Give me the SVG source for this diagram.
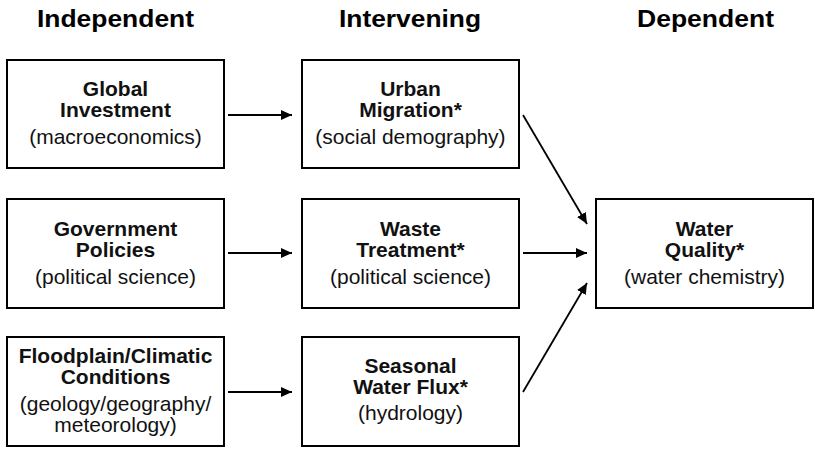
<svg xmlns="http://www.w3.org/2000/svg" width="815" height="449" viewBox="0 0 815 449">
<style>
.hdr{font-family:"Liberation Sans",Arial,sans-serif;font-weight:bold;font-size:24px;fill:#000;text-anchor:middle}
.b{font-family:"Liberation Sans",Arial,sans-serif;font-weight:bold;font-size:21px;fill:#111;text-anchor:middle}
.r{font-family:"Liberation Sans",Arial,sans-serif;font-size:21px;fill:#111;text-anchor:middle}
.box{fill:#fff;stroke:#000;stroke-width:2}
.edge{stroke:#000;stroke-width:1.8;fill:none}
</style>
<defs>
<marker id="ah" markerUnits="userSpaceOnUse" markerWidth="12" markerHeight="10" refX="11" refY="5" orient="auto">
<path d="M0,0 L11,5 L0,10 Z" fill="#000"/>
</marker>
</defs>
<rect width="815" height="449" fill="#fff"/>
<g id="headers">
<text class="hdr" x="115.5" y="27" textLength="157" lengthAdjust="spacingAndGlyphs">Independent</text>
<text class="hdr" x="410" y="27" textLength="142" lengthAdjust="spacingAndGlyphs">Intervening</text>
<text class="hdr" x="705.5" y="27" textLength="137" lengthAdjust="spacingAndGlyphs">Dependent</text>
</g>
<g id="global-investment">
<rect class="box" x="7" y="60" width="217" height="108"/>
<text class="b" x="115.5" y="96">Global</text>
<text class="b" x="115.5" y="117">Investment</text>
<text class="r" x="115.5" y="144">(macroeconomics)</text>
</g>
<g id="government-policies">
<rect class="box" x="7" y="199" width="217" height="109"/>
<text class="b" x="115.5" y="236">Government</text>
<text class="b" x="115.5" y="257">Policies</text>
<text class="r" x="115.5" y="284">(political science)</text>
</g>
<g id="floodplain">
<rect class="box" x="7" y="337" width="217" height="109"/>
<text class="b" x="115.5" y="363">Floodplain/Climatic</text>
<text class="b" x="115.5" y="384">Conditions</text>
<text class="r" x="115.5" y="411">(geology/geography/</text>
<text class="r" x="115.5" y="432">meteorology)</text>
</g>
<g id="urban-migration">
<rect class="box" x="302" y="60" width="217" height="108"/>
<text class="b" x="410.5" y="96">Urban</text>
<text class="b" x="410.5" y="117">Migration*</text>
<text class="r" x="410.5" y="144">(social demography)</text>
</g>
<g id="waste-treatment">
<rect class="box" x="302" y="199" width="217" height="109"/>
<text class="b" x="410.5" y="236">Waste</text>
<text class="b" x="410.5" y="257">Treatment*</text>
<text class="r" x="410.5" y="284">(political science)</text>
</g>
<g id="seasonal-water-flux">
<rect class="box" x="302" y="337" width="217" height="109"/>
<text class="b" x="410.5" y="373">Seasonal</text>
<text class="b" x="410.5" y="394">Water Flux*</text>
<text class="r" x="410.5" y="420">(hydrology)</text>
</g>
<g id="water-quality">
<rect class="box" x="596" y="199" width="217" height="109"/>
<text class="b" x="704.5" y="236">Water</text>
<text class="b" x="704.5" y="257">Quality*</text>
<text class="r" x="704.5" y="284">(water chemistry)</text>
</g>
<g id="connectors">
<line class="edge" x1="228" y1="115" x2="292" y2="115" marker-end="url(#ah)"/>
<line class="edge" x1="228" y1="253" x2="292" y2="253" marker-end="url(#ah)"/>
<line class="edge" x1="228" y1="392" x2="292" y2="392" marker-end="url(#ah)"/>
<line class="edge" x1="523" y1="115" x2="587" y2="224" marker-end="url(#ah)"/>
<line class="edge" x1="523" y1="253" x2="587" y2="253" marker-end="url(#ah)"/>
<line class="edge" x1="523" y1="392" x2="587" y2="283" marker-end="url(#ah)"/>
</g>
</svg>
